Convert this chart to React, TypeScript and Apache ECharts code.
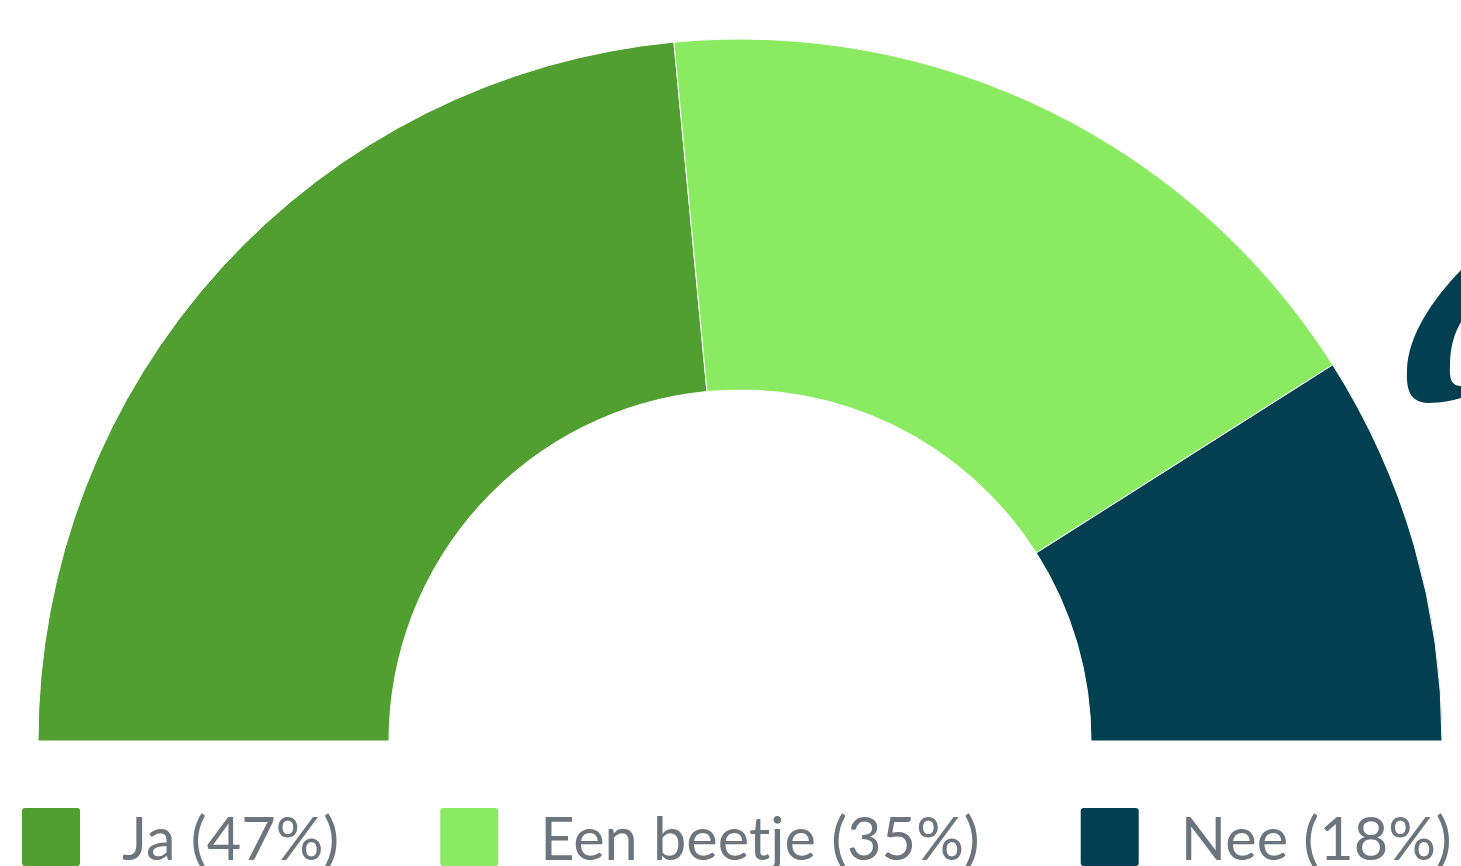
import React, { useEffect, useRef } from "react";
import * as echarts from "echarts";

const categories = ["Ja (47%)", "Een beetje (35%)", "Nee (18%)"];
const values = [47, 35, 18];
const colors = ["#519e31", "#8aeb62", "#023f51"];

const hookPath =
  "M1461,270 C1432,300 1408,336 1407,370 C1406,392 1411,402 1428,403 C1442,403 1454,400 1461,398 L1461,386 C1452,386 1449,380 1450,365 C1450,346 1455,332 1461,322 Z";

echarts.graphic.registerShape("hook", echarts.graphic.extendPath(hookPath, {}) as any);

export default function App() {
  const ref = useRef<HTMLDivElement>(null);
  useEffect(() => {
    if (!ref.current) return;
    const chart = echarts.init(ref.current, undefined, { renderer: "svg" });
    chart.setOption({
      animation: false,
      legend: {
        top: 806,
        left: 20,
        width: 1441,
        padding: 0,
        itemWidth: 60,
        itemHeight: 60,
        itemGap: 99,
        icon: "path://M0,4 Q0,0 4,0 L56,0 Q60,0 60,4 L60,56 Q60,60 56,60 L4,60 Q0,60 0,56 Z",
        textStyle: {
          fontFamily: "Lato",
          fontSize: 59.5,
          lineHeight: 60,
          color: "#6c757d",
          padding: [0, 0, 0, 36],
        },
        data: categories,
      },
      graphic: [
        {
          type: "hook",
          x: 0,
          y: 0,
          style: { fill: "#023f51" },
        },
      ],
      series: [
        {
          type: "pie",
          center: [740, 741],
          radius: [351, 702],
          startAngle: 180,
          endAngle: 0,
          label: { show: false },
          labelLine: { show: false },
          itemStyle: { borderColor: "#ffffff", borderWidth: 1 },
          emphasis: { disabled: true },
          data: categories.map((c, i) => ({
            name: c,
            value: values[i],
            itemStyle: { color: colors[i] },
          })),
        },
      ],
    });
    return () => chart.dispose();
  }, []);
  return (
    <div
      ref={ref}
      style={{ position: "fixed", left: 0, top: 0, width: 1461, height: 866 }}
    />
  );
}
